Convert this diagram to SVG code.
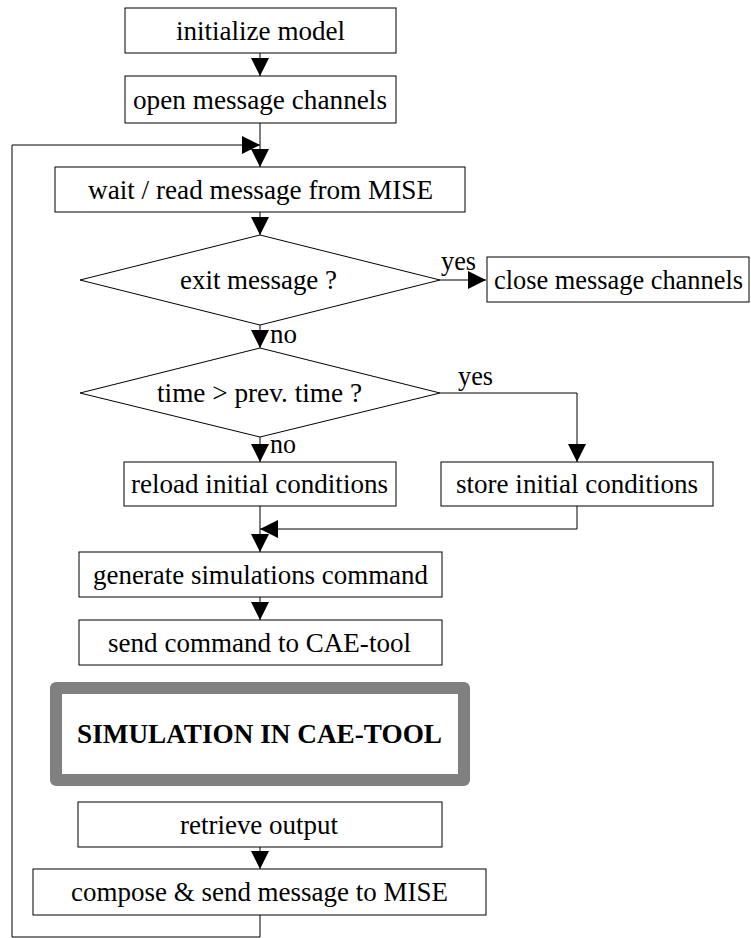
<svg xmlns="http://www.w3.org/2000/svg" width="751" height="938" viewBox="0 0 751 938">
<defs>
<marker id="ah" markerUnits="userSpaceOnUse" markerWidth="18" markerHeight="18" refX="18" refY="9" orient="auto" viewBox="0 0 18 18">
<path d="M0,0 L18,9 L0,18 Z" fill="#000"/>
</marker>
<style>
.box{fill:#fff;stroke:#000;stroke-width:1}
.dia{fill:#fff;stroke:#000;stroke-width:1}
.t{text-anchor:middle}
.ca{fill:none;stroke:#000;stroke-width:1;marker-end:url(#ah)}
</style>
</defs>
<rect width="751" height="938" fill="#fff"/>
<g font-family="Liberation Serif, serif" font-size="27" fill="#000">
<g id="connectors">
<path class="ca" d="M260,53 V76"/>
<path class="ca" d="M260,123 V167"/>
<path class="ca" d="M260,212 V235"/>
<path class="ca" d="M440,280 H486"/>
<path class="ca" d="M260,325 V348"/>
<path class="ca" d="M440,393 H577 V462"/>
<path class="ca" d="M260,437 V462"/>
<path class="ca" d="M260,506 V552"/>
<path class="ca" d="M577,506 V529 H260"/>
<path class="ca" d="M260,597 V620"/>
<path class="ca" d="M260,847 V869"/>
<path class="ca" d="M260,915 V937 H12 V145 H260"/>
<text x="441" y="270" textLength="35" lengthAdjust="spacingAndGlyphs">yes</text>
<text x="270" y="343" textLength="27" lengthAdjust="spacingAndGlyphs">no</text>
<text x="458" y="385" textLength="35" lengthAdjust="spacingAndGlyphs">yes</text>
<text x="270" y="453" textLength="26" lengthAdjust="spacingAndGlyphs">no</text>
</g>
<g id="init">
<rect class="box" x="125" y="8" width="271" height="45"/>
<text class="t" x="260.5" y="39.5" textLength="169" lengthAdjust="spacingAndGlyphs">initialize model</text>
</g>
<g id="open">
<rect class="box" x="125" y="76" width="271" height="47"/>
<text class="t" x="260" y="108.5" textLength="254" lengthAdjust="spacingAndGlyphs">open message channels</text>
</g>
<g id="wait">
<rect class="box" x="55" y="167" width="410" height="45"/>
<text class="t" x="260.5" y="198.5" textLength="345" lengthAdjust="spacingAndGlyphs">wait / read message from MISE</text>
</g>
<g id="exit">
<polygon class="dia" points="260,235 440,280 260,325 80,280"/>
<text class="t" x="258.5" y="288.5" textLength="157" lengthAdjust="spacingAndGlyphs">exit message ?</text>
</g>
<g id="close">
<rect class="box" x="487" y="257" width="262" height="45"/>
<text class="t" x="618.5" y="288.5" textLength="249" lengthAdjust="spacingAndGlyphs">close message channels</text>
</g>
<g id="time">
<polygon class="dia" points="260,348 440,393 260,437 80,393"/>
<text class="t" x="259.5" y="402" textLength="205" lengthAdjust="spacingAndGlyphs">time &gt; prev. time ?</text>
</g>
<g id="reload">
<rect class="box" x="124" y="462" width="272" height="44"/>
<text class="t" x="259.5" y="493" textLength="257" lengthAdjust="spacingAndGlyphs">reload initial conditions</text>
</g>
<g id="store">
<rect class="box" x="441" y="462" width="272" height="44"/>
<text class="t" x="577" y="493" textLength="242" lengthAdjust="spacingAndGlyphs">store initial conditions</text>
</g>
<g id="generate">
<rect class="box" x="79" y="552" width="363" height="45"/>
<text class="t" x="260.5" y="583.5" textLength="335" lengthAdjust="spacingAndGlyphs">generate simulations command</text>
</g>
<g id="send">
<rect class="box" x="79" y="620" width="363" height="45"/>
<text class="t" x="259.5" y="651.5" textLength="303" lengthAdjust="spacingAndGlyphs">send command to CAE-tool</text>
</g>
<g id="simulation">
<rect x="56" y="688" width="408" height="92" fill="#fff" stroke="#808080" stroke-width="12" stroke-linejoin="round"/>
<text class="t" x="259.5" y="743" font-weight="bold" textLength="365" lengthAdjust="spacingAndGlyphs">SIMULATION IN CAE-TOOL</text>
</g>
<g id="retrieve">
<rect class="box" x="78" y="802" width="364" height="45"/>
<text class="t" x="259" y="833.5" textLength="158" lengthAdjust="spacingAndGlyphs">retrieve output</text>
</g>
<g id="compose">
<rect class="box" x="33" y="869" width="453" height="46"/>
<text class="t" x="259.5" y="901" textLength="377" lengthAdjust="spacingAndGlyphs">compose &amp; send message to MISE</text>
</g>
</g>
</svg>
